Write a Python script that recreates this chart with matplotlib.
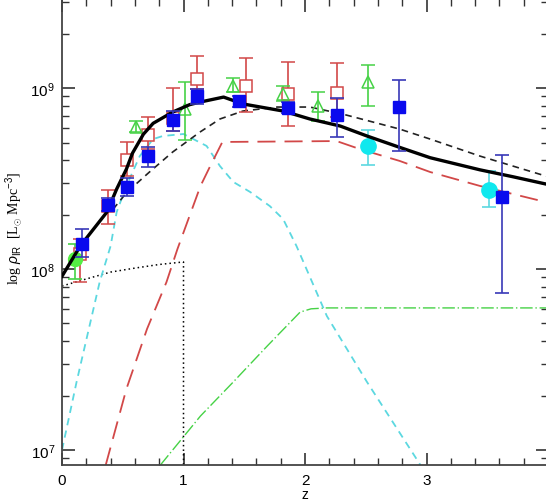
import numpy as np
import matplotlib
matplotlib.use("Agg")
import matplotlib.pyplot as plt
from matplotlib.ticker import MultipleLocator, LogLocator, NullFormatter, FixedLocator

# model curves, log10(rho_IR) vs z
total_z = [0.0, 0.15, 0.37, 0.45, 0.53, 0.58, 0.67, 0.75, 0.91, 1.05, 1.14, 1.33,
           1.49, 1.82, 2.04, 2.29, 2.51, 2.78, 3.03, 3.44, 3.71, 4.0]
total_log = [7.96, 8.127, 8.315, 8.442, 8.552, 8.64, 8.745, 8.805, 8.867, 8.908, 8.923, 8.95,
             8.912, 8.873, 8.829, 8.79, 8.735, 8.672, 8.615, 8.548, 8.51, 8.467]

dash_z = [0.42, 0.535, 0.72, 0.91, 1.136, 1.30, 1.49, 1.77, 2.04, 2.31, 2.56, 2.78, 3.03, 3.44, 4.0]
dash_log = [8.33, 8.425, 8.536, 8.646, 8.757, 8.829, 8.873, 8.895, 8.895, 8.856, 8.812, 8.773,
            8.718, 8.624, 8.51]

cyan_z = [0.0, 0.12, 0.31, 0.40, 0.45, 0.53, 0.64, 0.75, 0.83, 1.0, 1.19, 1.30, 1.41, 1.55,
          1.71, 1.82, 1.93, 2.18, 2.51, 2.95]
cyan_log = [7.0, 7.376, 7.928, 8.127, 8.315, 8.459, 8.624, 8.718, 8.735, 8.746, 8.68, 8.569,
            8.481, 8.425, 8.348, 8.276, 8.127, 7.74, 7.376, 6.917]

red_z = [0.36, 0.53, 0.70, 0.86, 0.95, 1.14, 1.22, 1.32, 2.26, 2.45, 2.78, 3.03, 3.44, 4.0]
red_log = [6.917, 7.337, 7.669, 7.928, 8.11, 8.459, 8.569, 8.702, 8.707, 8.663, 8.597, 8.536,
           8.459, 8.367]

green_z = [0.81, 1.14, 1.41, 1.69, 1.96, 2.05, 2.18, 4.0]
green_log = [6.917, 7.188, 7.376, 7.575, 7.762, 7.78, 7.785, 7.785]

dot_z = [0.0, 0.2, 0.4, 0.6, 0.8, 1.0, 1.0]
dot_log = [7.906, 7.945, 7.983, 8.005, 8.025, 8.039, 6.5]

# data points: z, log value, log lower, log upper
blue_z = [0.165, 0.38, 0.535, 0.71, 0.91, 1.11, 1.46, 1.86, 2.26, 2.77, 3.62]
blue_log = [8.138, 8.354, 8.453, 8.624, 8.823, 8.956, 8.928, 8.89, 8.851, 8.895, 8.398]
blue_lo = [8.066, 8.32, 8.403, 8.564, 8.762, 8.912, 8.895, 8.862, 8.729, 8.652, 7.867]
blue_hi = [8.221, 8.39, 8.503, 8.674, 8.873, 8.994, 8.956, 8.923, 8.945, 9.044, 8.63]

red_pz = [0.148, 0.379, 0.535, 0.708, 0.914, 1.111, 1.514, 1.86, 2.263]
red_plog = [8.083, 8.348, 8.602, 8.74, 8.834, 9.05, 9.011, 8.967, 8.972]
red_plo = [7.928, 8.249, 8.514, 8.663, 8.76, 8.994, 8.867, 8.79, 8.84]
red_phi = [8.166, 8.436, 8.702, 8.84, 9.0, 9.177, 9.166, 9.144, 9.138]

tri_z = [0.609, 1.012, 1.407, 1.819, 2.107, 2.519]
tri_log = [8.785, 8.884, 9.011, 8.967, 8.901, 9.033]
tri_lo = [8.757, 8.713, 8.978, 8.928, 8.818, 8.901]
tri_hi = [8.818, 9.033, 9.055, 9.011, 8.978, 9.127]

gcirc_z = [0.107]
gcirc_log = [8.055]
gcirc_lo = [7.945]
gcirc_hi = [8.138]

cyan_pz = [2.519, 3.514]
cyan_plog = [8.68, 8.436]
cyan_plo = [8.575, 8.343]
cyan_phi = [8.768, 8.541]

x_ticks = [0, 1, 2, 3]

BLUE = "#0a0aee"
BLUE_ERR = "#3838b8"
RED = "#d24848"
GREEN = "#46d246"
CYAN = "#10e8ee"
CYAN_LINE = "#5cd8e0"


def lin(a):
    return 10 ** np.array(a, dtype=float)


def errs(v, lo, hi):
    v = lin(v)
    return [v - lin(lo), lin(hi) - v]


plt.rcParams["font.family"] = ["Liberation Sans", "DejaVu Sans"]
plt.rcParams["mathtext.fontset"] = "custom"
plt.rcParams["mathtext.rm"] = "Liberation Sans"
plt.rcParams["mathtext.it"] = "Liberation Sans:italic"

fig = plt.figure(figsize=(5.46, 5.02), dpi=100)
ax = fig.add_axes([62 / 546, 36 / 502, 486 / 546, 466 / 502])

# model lines
ax.plot(dot_z, lin(dot_log), color="black", ls=(0, (1, 2)), lw=1.1)
ax.plot(green_z, lin(green_log), color=GREEN, ls=(0, (9, 2, 1, 2)), lw=1.0)
ax.plot(cyan_z, lin(cyan_log), color=CYAN_LINE, ls=(0, (4, 3)), lw=1.3)
ax.plot(red_z, lin(red_log), color=RED, ls=(0, (10, 5)), lw=1.3)
ax.plot(dash_z, lin(dash_log), color="#222222", ls=(0, (4, 3)), lw=1.2)

# data points
ekw = dict(capsize=5, elinewidth=1.2, capthick=1.2, ls="none")
ax.errorbar(red_pz, lin(red_plog), yerr=errs(red_plog, red_plo, red_phi), ecolor=RED,
            marker="s", ms=8, mfc="white", mec=RED, mew=1.1, **ekw)
ax.errorbar(tri_z, lin(tri_log), yerr=errs(tri_log, tri_lo, tri_hi), ecolor=GREEN,
            marker="^", ms=9, mfc="none", mec=GREEN, mew=1.1, **ekw)
ax.errorbar(gcirc_z, lin(gcirc_log), yerr=errs(gcirc_log, gcirc_lo, gcirc_hi), ecolor=GREEN,
            marker="o", ms=10, mfc="#55ee44", mec="#55ee44", **ekw)
ax.errorbar(cyan_pz, lin(cyan_plog), yerr=errs(cyan_plog, cyan_plo, cyan_phi), ecolor=CYAN_LINE,
            marker="o", ms=11, mfc=CYAN, mec=CYAN, **ekw)

ax.plot(total_z, lin(total_log), color="black", lw=2.4, zorder=4)

ax.errorbar(blue_z, lin(blue_log), yerr=errs(blue_log, blue_lo, blue_hi), ecolor=BLUE_ERR,
            marker="s", ms=8.5, mfc=BLUE, mec=BLUE, zorder=5, **ekw)

ax.set_yscale("log")
ax.set_xlim(0, 4)
ax.set_ylim(10 ** 6.917, 10 ** 9.492)

ax.xaxis.set_major_locator(FixedLocator(x_ticks))
ax.set_xticklabels([str(t) for t in x_ticks])
ax.xaxis.set_minor_locator(MultipleLocator(0.2))
ax.yaxis.set_major_locator(LogLocator(base=10))
ax.yaxis.set_minor_locator(LogLocator(base=10, subs=np.arange(2, 10)))
ax.yaxis.set_minor_formatter(NullFormatter())

ax.tick_params(which="both", direction="in", top=True, right=True, color="#333333",
               labelsize=11)
ax.tick_params(which="major", length=9, width=1.2)
ax.tick_params(which="minor", length=5, width=1.0)
ax.tick_params(axis="x", which="major", pad=6)
ax.tick_params(axis="y", which="major", pad=5)
for s in ax.spines.values():
    s.set_color("#444444")
    s.set_linewidth(1.3)

ax.set_xlabel("z", fontsize=10, labelpad=0)
ax.set_ylabel(r"log $\rho_{\rm IR}$  [L$_{\odot}$ Mpc$^{-3}$]", fontsize=10,
              family=["Liberation Serif", "DejaVu Sans"])
ax.yaxis.set_label_coords(-0.077, 0.51)

fig.savefig("out.png", dpi=100)
